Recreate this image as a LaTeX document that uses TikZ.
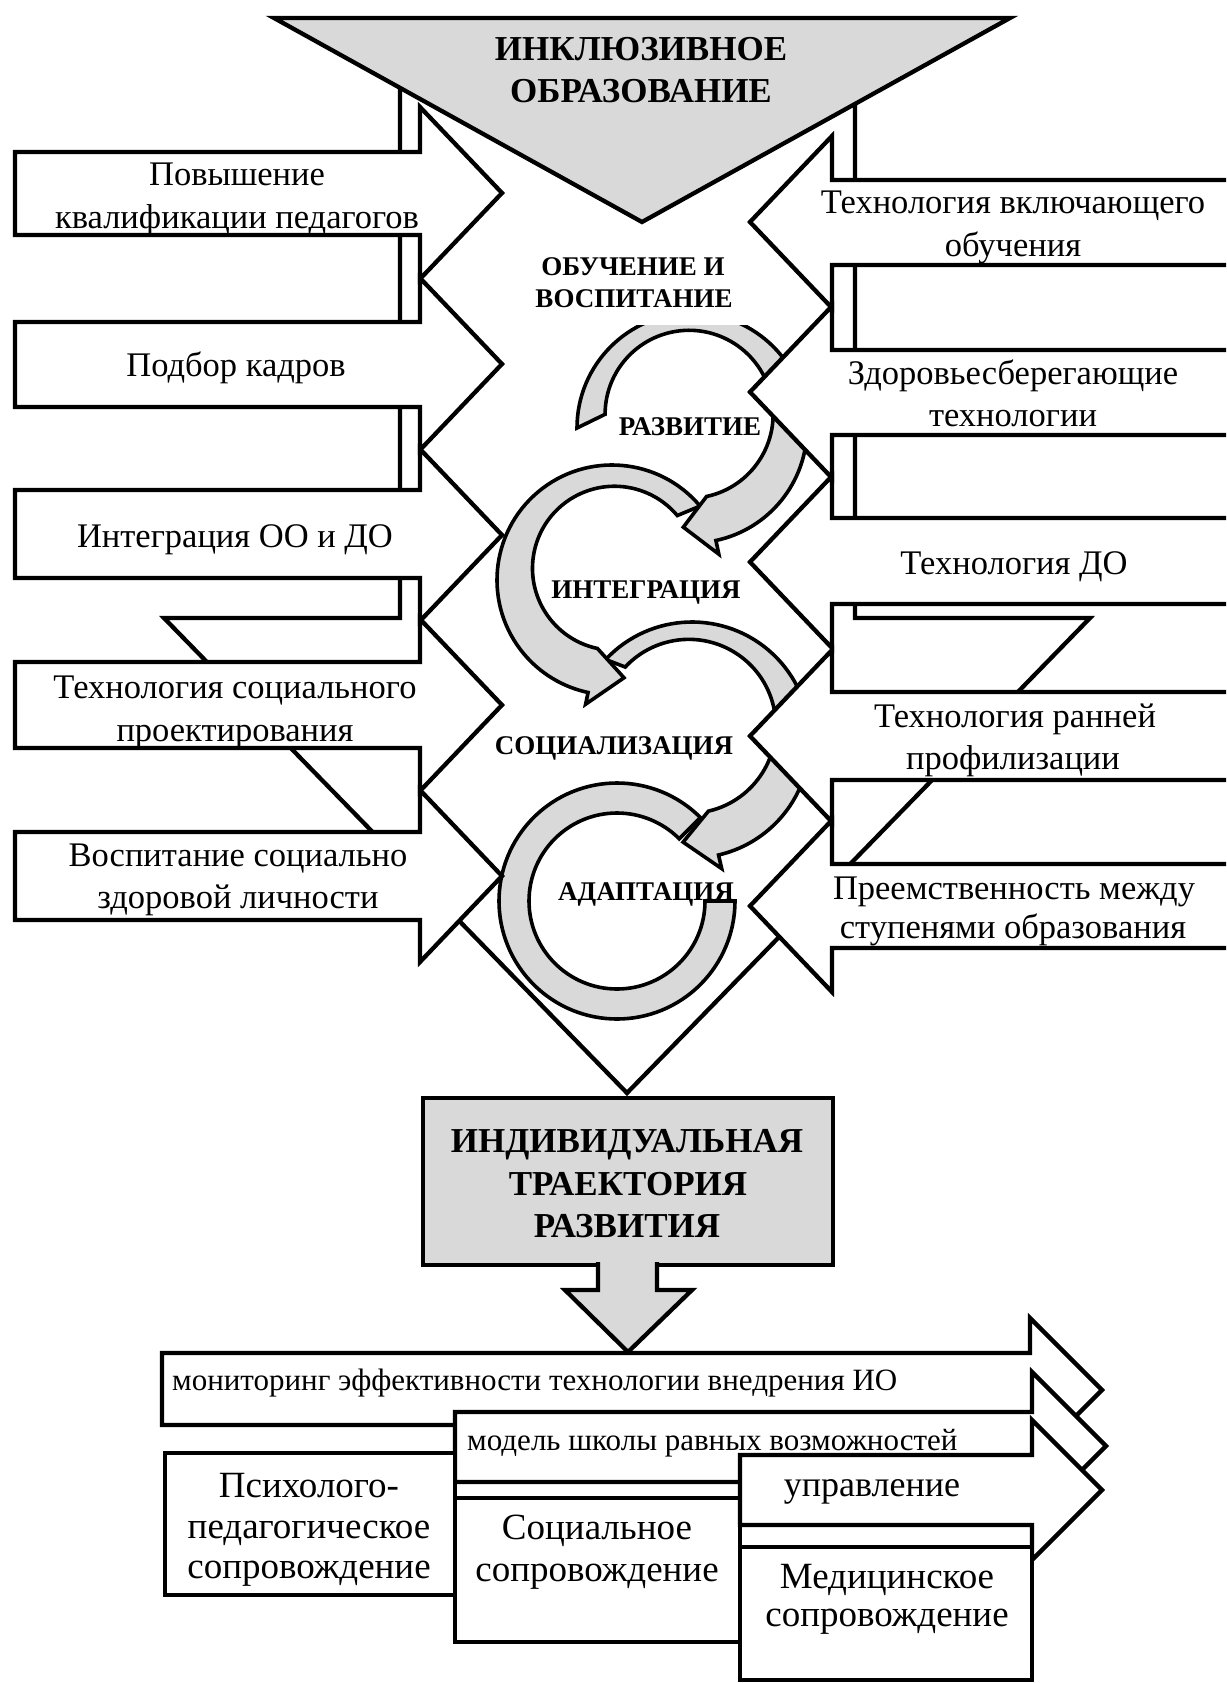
\documentclass[tikz,border=0pt]{standalone}
\usepackage{fontspec}
\setmainfont{Liberation Serif}
\usetikzlibrary{calc}
\definecolor{fillgray}{HTML}{D9D9D9}
% circular arrow band: cx, cy, r_in, r_out, start, end, head extension, tip angle offset
\newcommand{\circarr}[8]{%
  \draw[circ] ($(#1,#2)+(#5:#4)$) arc[start angle=#5,end angle=#6,radius=#4]
   -- ($(#1,#2)+(#6:{#4+#7})$) -- ($(#1,#2)+({#6+#8}:{(#3+#4)/2})$)
   -- ($(#1,#2)+(#6:{#3-#7})$) arc[start angle=#6,end angle=#5,radius=#3] -- cycle;}
\newcommand{\larrow}[3]{%
  \draw[shp] (15,#1) -- (420,#1) -- (420,{#3-86}) -- (502,#3) -- (420,{#3+86}) -- (420,#2) -- (15,#2) -- cycle;}
\newcommand{\rarrow}[3]{%
  \draw[shp] (1245,#1) -- (832,#1) -- (832,{#3-86}) -- (750,#3) -- (832,{#3+86}) -- (832,#2) -- (1245,#2) -- cycle;}
\begin{document}
\begin{tikzpicture}[x=1pt,y=-1pt,
  shp/.style={draw=black,line width=4.3pt,fill=white,line join=miter},
  gshp/.style={shp,fill=fillgray},
  circ/.style={draw=black,line width=3.6pt,fill=fillgray,line join=miter},
  lt/.style={anchor=base,inner sep=0pt,font=\fontsize{34.5}{40}\selectfont},
  bt/.style={anchor=base,inner sep=0pt,font=\fontsize{27}{32}\selectfont\bfseries},
  ht/.style={anchor=base,inner sep=0pt,font=\fontsize{35}{42}\selectfont\bfseries},
  st/.style={anchor=base west,inner sep=0pt,font=\fontsize{31}{36}\selectfont},
  bx/.style={anchor=base,inner sep=0pt,font=\fontsize{37}{42}\selectfont}]
\useasboundingbox (0,0) rectangle (1226,1683);
\clip (0,0) rectangle (1226,1683);
\fill[white] (0,0) rectangle (1226,1683);
% big background down arrow
\draw[shp] (400,40) -- (400,618) -- (164,618) -- (627,1093) -- (1090,618) -- (855,618) -- (855,40) -- cycle;
% circular arrows
\circarr{617}{901}{88}{118}{-45}{-360}{0}{0}
\circarr{692}{740}{87}{118}{-137}{77}{14}{18}
\circarr{612}{580}{82}{115}{-40}{-258}{12}{-19}
\circarr{692}{428}{84}{115}{180}{438}{14}{17}
\fill[white] (565,236) rectangle (785,325);
% left arrows
\larrow{152}{235}{193}
\larrow{322}{407}{364}
\larrow{490}{578}{535}
\larrow{662}{748}{705}
\larrow{832}{920}{876}
% right arrows
\rarrow{180}{265}{222}
\rarrow{350}{435}{392}
\rarrow{518}{604}{562}
\rarrow{692}{780}{736}
\rarrow{864}{948}{906}
% top triangle
\draw[gshp] (274,18) -- (1010,18) -- (642,222) -- cycle;
\node[ht] (io1) at (641,61) {ИНКЛЮЗИВНОЕ};
\node[ht] (io2) at (641,103) {ОБРАЗОВАНИЕ};
% central labels
\node[bt] (c1) at (633,275) {ОБУЧЕНИЕ И};
\node[bt] (c2) at (634,307) {ВОСПИТАНИЕ};
\node[bt] (c3) at (690,435) {РАЗВИТИЕ};
\node[bt] (c4) at (646,598) {ИНТЕГРАЦИЯ};
\node[bt] (c5) at (614,754) {СОЦИАЛИЗАЦИЯ};
\node[bt] (c6) at (646,900) {АДАПТАЦИЯ};
% left texts
\node[lt] (l1a) at (237,185) {Повышение};
\node[lt] (l1b) at (237,228) {квалификации педагогов};
\node[lt] (l2) at (236,376) {Подбор кадров};
\node[lt] (l3) at (235,547) {Интеграция ОО и ДО};
\node[lt] (l4a) at (235,698) {Технология социального};
\node[lt] (l4b) at (235,741) {проектирования};
\node[lt] (l5a) at (238,866) {Воспитание социально};
\node[lt] (l5b) at (238,908) {здоровой личности};
% right texts
\node[lt] (r1a) at (1013,213) {Технология включающего};
\node[lt] (r1b) at (1013,256) {обучения};
\node[lt] (r2a) at (1013,384) {Здоровьесберегающие};
\node[lt] (r2b) at (1013,426) {технологии};
\node[lt] (r3) at (1014,574) {Технология ДО};
\node[lt] (r4a) at (1015,727) {Технология ранней};
\node[lt] (r4b) at (1013,769) {профилизации};
\node[lt] (r5a) at (1014,899) {Преемственность между};
\node[lt] (r5b) at (1013,938) {ступенями образования};
% individual trajectory box
\draw[gshp] (423,1098) rectangle (833,1265);
\draw[gshp] (598,1262) -- (598,1290) -- (565,1290) -- (628,1352) -- (692,1290) -- (657,1290) -- (657,1262);
\node[ht] (it1) at (627,1152) {ИНДИВИДУАЛЬНАЯ};
\node[ht] (it2) at (628,1195) {ТРАЕКТОРИЯ};
\node[ht] (it3) at (627,1237) {РАЗВИТИЯ};
% bottom arrows and boxes
\draw[shp] (162,1353) -- (1030,1353) -- (1030,1318) -- (1102,1390) -- (1030,1462) -- (1030,1425) -- (162,1425) -- cycle;
\draw[shp] (455,1470) rectangle (740,1498);
\draw[shp] (455,1412) -- (1032,1412) -- (1032,1372) -- (1106,1446) -- (1032,1520) -- (1032,1482) -- (455,1482) -- cycle;
\draw[shp] (165,1453) rectangle (455,1595);
\draw[shp] (455,1498) rectangle (740,1642);
\draw[shp] (740,1515) rectangle (1032,1547);
\draw[shp] (740,1455) -- (1032,1455) -- (1032,1420) -- (1102,1490) -- (1032,1560) -- (1032,1525) -- (740,1525) -- cycle;
\draw[shp] (740,1547) rectangle (1032,1680);
\node[st] (m1) at (172,1390) {мониторинг эффективности технологии внедрения ИО};
\node[st] (m2) at (467,1450) {модель школы равных возможностей};
\node[bx,font=\fontsize{36}{42}\selectfont] (m3) at (872,1496) {управление};
\node[bx] (p1) at (309,1497) {Психолого-};
\node[bx] (p2) at (309,1538) {педагогическое};
\node[bx] (p3) at (309,1578) {сопровождение};
\node[bx] (s1) at (597,1539) {Социальное};
\node[bx] (s2) at (597,1581) {сопровождение};
\node[bx] (d1) at (887,1588) {Медицинское};
\node[bx] (d2) at (887,1626) {сопровождение};
\end{tikzpicture}
\end{document}
